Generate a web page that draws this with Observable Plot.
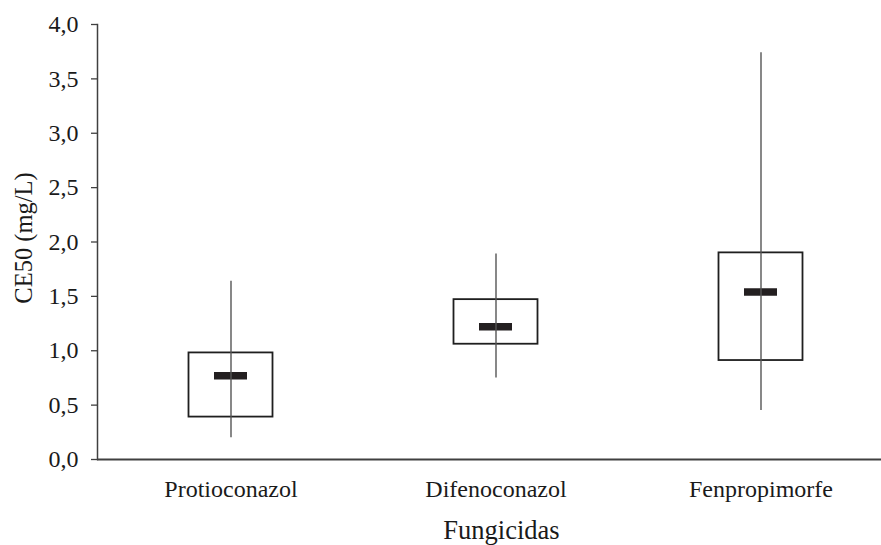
<!DOCTYPE html>
<html>
<head>
<meta charset="utf-8">
<script src="https://cdn.jsdelivr.net/npm/d3@7"></script>
<script src="https://cdn.jsdelivr.net/npm/@observablehq/plot@0.6"></script>
<style>
  html, body { margin: 0; padding: 0; background: #fff; overflow: hidden; }
  #chart { width: 881px; height: 545px; overflow: hidden; }
</style>
</head>
<body>
<div id="chart"></div>
<script>
// CE50 (mg/L) by fungicide: whiskers = min–max, box = Q1–Q3, thick bar = median
const fungicidas = ["Protioconazol", "Difenoconazol", "Fenpropimorfe"];
const minimo  = [0.20, 0.75, 0.45];
const q1      = [0.39, 1.06, 0.91];
const mediana = [0.77, 1.22, 1.54];
const q3      = [0.98, 1.47, 1.90];
const maximo  = [1.64, 1.89, 3.74];
const yTicks  = [0, 0.5, 1, 1.5, 2, 2.5, 3, 3.5, 4];

const rows = fungicidas.map((f, i) => ({
  f, min: minimo[i], q1: q1[i], med: mediana[i], q3: q3[i], max: maximo[i]
}));

const fmt = d => d.toFixed(1).replace(".", ",");
const font = "'Liberation Serif', 'Times New Roman', serif";

const chart = Plot.plot({
  width: 893,
  height: 545,
  marginLeft: 97,
  marginRight: 0,
  marginTop: 24,
  marginBottom: 86,
  style: { fontFamily: font, fontSize: "24px", color: "#1a1a1a", background: "#fff", maxWidth: "none", overflow: "visible" },
  x: { domain: fungicidas, padding: 0, axis: null },
  y: { domain: [0, 4], axis: null },
  marks: [
    // axes
    Plot.axisY({ ticks: yTicks, tickFormat: fmt, tickSize: 6, tickPadding: 13, fontSize: 24, stroke: "#404040", strokeWidth: 1.3 }),
    Plot.axisX({ tickSize: 0, tickPadding: 20, fontSize: 24, label: null }),
    Plot.frame({ anchor: "left", stroke: "#404040", strokeWidth: 1.5 }),
    Plot.ruleY([0], { stroke: "#404040", strokeWidth: 1.8 }),
    // interquartile box
    Plot.barY(rows, { x: "f", y1: "q1", y2: "q3", fill: "none", stroke: "#1f1f1f", strokeWidth: 1.8, insetLeft: 90.5, insetRight: 90.5 }),
    // median
    Plot.tickY(rows, { x: "f", y: "med", stroke: "#231f20", strokeWidth: 7.5, insetLeft: 116, insetRight: 116 }),
    // min–max whisker
    Plot.ruleX(rows, { x: "f", y1: "min", y2: "max", stroke: "#555", strokeWidth: 1.4 }),
    // axis titles
    Plot.text(["CE50 (mg/L)"], { frameAnchor: "left", rotate: -90, dx: -73, dy: -4, textAnchor: "middle", lineAnchor: "middle", fontSize: 24.5, fill: "#1a1a1a" }),
    Plot.text(["Fungicidas"], { frameAnchor: "bottom", dy: 79, dx: 6, textAnchor: "middle", lineAnchor: "bottom", fontSize: 26.5, fill: "#1a1a1a" })
  ]
});

document.getElementById("chart").appendChild(chart);
</script>
</body>
</html>
